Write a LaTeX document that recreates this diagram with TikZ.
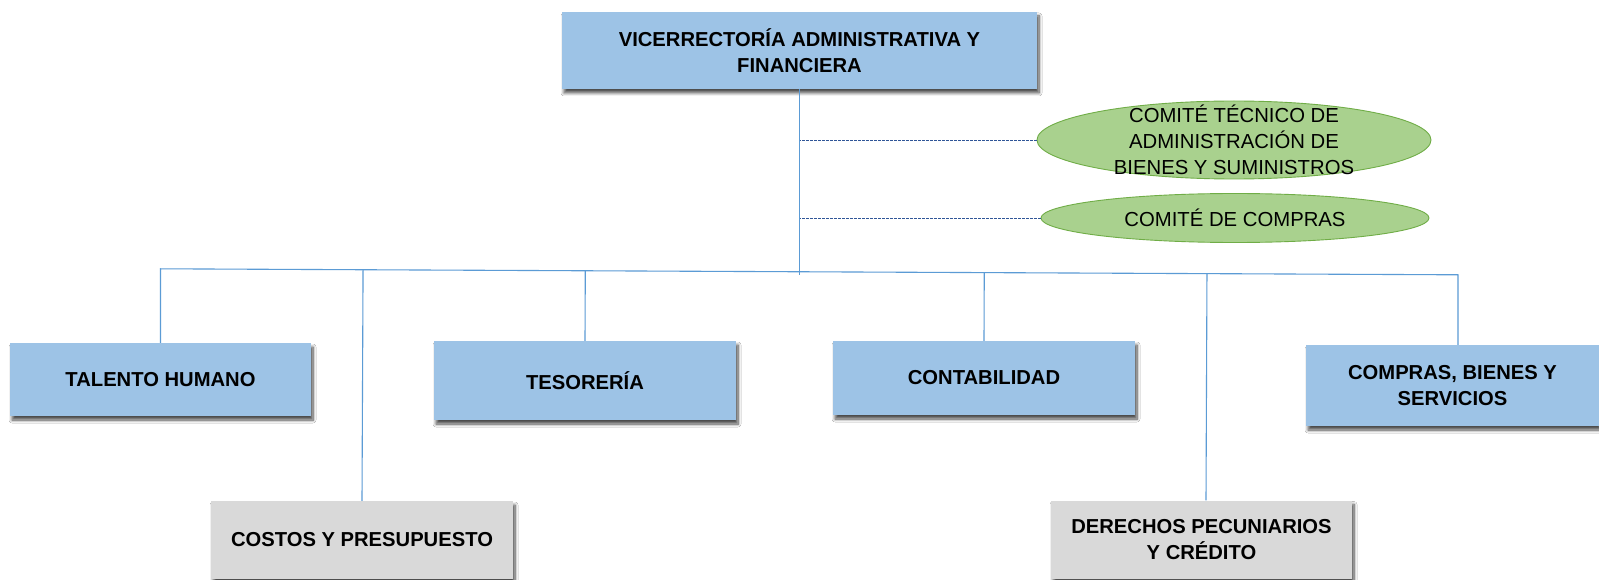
\documentclass[tikz,border=0pt]{standalone}
\usepackage{fontspec}
\setmainfont{Liberation Sans}
\usetikzlibrary{shapes.geometric,shadows.blur,calc}
\definecolor{boxblue}{HTML}{9DC3E6}
\definecolor{boxgray}{HTML}{D9D9D9}
\definecolor{linkblue}{HTML}{5B9BD5}
\definecolor{dashblue}{HTML}{2F5597}
\definecolor{comfill}{HTML}{A9D18E}
\definecolor{comdraw}{HTML}{70AD47}
\begin{document}
\begin{tikzpicture}[x=1pt,y=-1pt,
  unit/.style={rectangle, inner sep=0pt, align=center,
    font=\bfseries\fontsize{20.2}{25.5}\selectfont,
    blur shadow={shadow xshift=2pt, shadow yshift=-4pt, shadow blur radius=3pt, shadow blur steps=8, shadow opacity=70}},
  bluebox/.style={unit, fill=boxblue},
  graybox/.style={unit, fill=boxgray},
  comite/.style={ellipse, draw=comdraw, fill=comfill, line width=0.9pt, inner sep=0pt},
  comtext/.style={font=\fontsize{20.3}{26}\selectfont, align=center, inner sep=0pt},
  link/.style={draw=linkblue, line width=1.1pt},
  dotlink/.style={draw=dashblue, line width=0.9pt, dash pattern=on 2.5pt off 1.5pt}]
\useasboundingbox[fill=white] (0,0) rectangle (1599,580);

% top unit
\node[bluebox, minimum width=475pt, minimum height=77pt] (vaf) at (799.5,50.5)
  {VICERRECTORÍA ADMINISTRATIVA Y\\FINANCIERA};

% committees
\node[comite, minimum width=394pt, minimum height=78pt] (c1) at (1234,140) {};
\node[comtext] (c1t) at (c1) {COMITÉ TÉCNICO DE\\ADMINISTRACIÓN DE\\BIENES Y SUMINISTROS};
\node[comite, minimum width=388pt, minimum height=49pt] (c2) at (1235,218) {};
\node[comtext] (c2t) at (c2) {COMITÉ DE COMPRAS};

% units
\node[bluebox, minimum width=301pt, minimum height=73pt] (th) at (160.5,379.5) {TALENTO HUMANO};
\node[bluebox, minimum width=302pt, minimum height=79pt] (te) at (585,380.5) {TESORERÍA};
\node[bluebox, minimum width=302pt, minimum height=74pt] (co) at (984,378) {CONTABILIDAD};
\node[bluebox, minimum width=293pt, minimum height=81pt] (cb) at (1452.5,385.5) {COMPRAS, BIENES Y\\SERVICIOS};
\node[graybox, minimum width=302pt, minimum height=78pt] (cp) at (362,540) {COSTOS Y PRESUPUESTO};
\node[graybox, minimum width=301pt, minimum height=78pt] (dp) at (1201.5,539.5) {DERECHOS PECUNIARIOS\\Y CRÉDITO};

% trunk
\coordinate (trunkend) at (800,275);
\draw[link] (vaf.south) -- (vaf.south |- trunkend);

% dashed links to committees
\draw[dotlink] (c1.west) -- (c1.west -| vaf.south);
\draw[dotlink] (c2.west) -- (c2.west -| vaf.south);

% bus
\coordinate (cbx) at ([xshift=5.5pt]cb.north);
\coordinate (dpx) at ([xshift=4.5pt]dp.north);
\path (th.north) ++(0,-74) coordinate (busL);
\path (cbx) ++(0,-70) coordinate (busR);
\draw[link] (th.north) -- (busL) -- (busR) -- (cbx);
\draw[link] (cp.north) -- ($(busL)!(cp.north)!(busR)$);
\draw[link] (te.north) -- ($(busL)!(te.north)!(busR)$);
\draw[link] (co.north) -- ($(busL)!(co.north)!(busR)$);
\draw[link] (dpx) -- ($(busL)!(dpx)!(busR)$);
\end{tikzpicture}
\end{document}
